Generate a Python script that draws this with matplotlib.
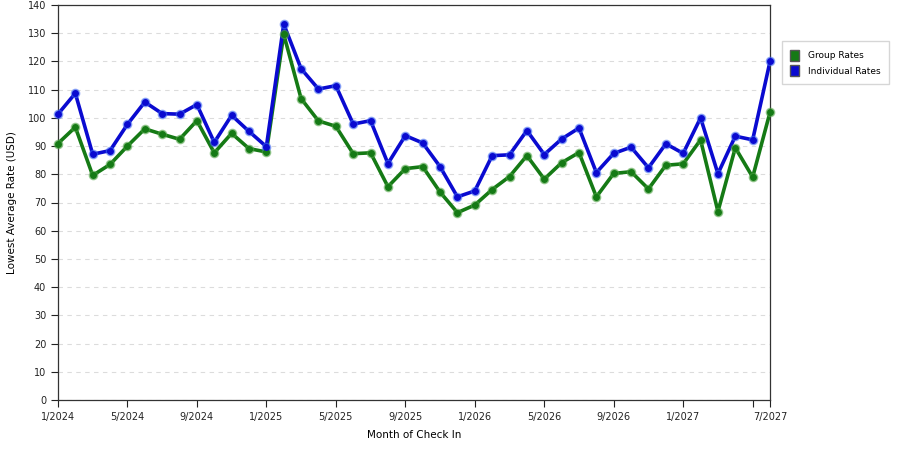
import matplotlib
matplotlib.use("Agg")
import matplotlib.pyplot as plt
from matplotlib.patches import Patch

months = list(range(42))  # 1/2024 .. 6/2027
tick_pos = [0, 4, 8, 12, 16, 20, 24, 28, 32, 36, 40, 41]
tick_labels = ["1/2024", "5/2024", "9/2024", "1/2025", "5/2025", "9/2025",
               "1/2026", "5/2026", "9/2026", "1/2027", "", "7/2027"]

group_rates = [90.9, 96.7, 79.6, 83.5, 90.0, 96.1, 94.2, 92.4, 99.0, 87.6,
               94.5, 89.1, 87.9, 129.6, 106.8, 98.9, 97.0, 87.3, 87.6, 75.6,
               82.0, 82.7, 73.7, 66.4, 69.1, 74.6, 79.2, 86.6, 78.3, 84.1,
               87.7, 72.0, 80.3, 80.9, 74.8, 83.2, 83.7, 92.2, 66.8, 89.4,
               79.0, 102.0]
individual_rates = [101.3, 108.7, 87.1, 88.4, 97.7, 105.6, 101.5, 101.3, 104.7, 91.3,
                    100.9, 95.2, 89.8, 133.2, 117.4, 110.2, 111.4, 97.8, 99.0, 83.8,
                    93.7, 91.1, 82.7, 72.0, 74.1, 86.6, 86.9, 95.5, 87.0, 92.5,
                    96.4, 80.6, 87.4, 89.6, 82.3, 90.8, 87.4, 100.0, 80.2, 93.5,
                    92.2, 120.0]

green = "#157a15"
blue = "#0a0ad0"

fig = plt.figure(figsize=(9, 4.5), dpi=100)
ax = fig.add_axes([0.0644, 0.111, 0.7912, 0.878])

for vals, col, mcol in [(group_rates, green, "#4aa040"), (individual_rates, blue, "#3a64f0")]:
    ax.plot(months, vals, color=col, linewidth=2.6, zorder=3, solid_capstyle="round")
    ax.plot(months, vals, linestyle="none", marker="o", markersize=6,
            markerfacecolor=mcol, markeredgecolor=mcol, alpha=0.5, zorder=4, clip_on=False)
    ax.plot(months, vals, linestyle="none", marker="o", markersize=4,
            markerfacecolor=col, markeredgecolor=col, zorder=5, clip_on=False)

ax.set_xlim(0, 41)
ax.set_ylim(0, 140)
ax.set_yticks(range(0, 141, 10))
ax.set_xticks(tick_pos)
ax.set_xticklabels(tick_labels)
ax.yaxis.grid(True, linestyle=(0, (4, 4)), color="#dcdcdc", linewidth=0.8)
ax.set_axisbelow(True)
ax.tick_params(axis="both", labelsize=7, direction="out", length=5, width=0.8, colors="#222222")
for s in ax.spines.values():
    s.set_color("#333333")
    s.set_linewidth(0.9)

ax.set_xlabel("Month of Check In", fontsize=7.5, labelpad=6)
ax.set_ylabel("Lowest Average Rate (USD)", fontsize=7.5, labelpad=8)

handles = [Patch(facecolor=green, edgecolor="#555555", label="Group Rates"),
           Patch(facecolor=blue, edgecolor="#555555", label="Individual Rates")]
fig.legend(handles=handles, loc="upper left", bbox_to_anchor=(0.864, 0.918),
           fontsize=6.5, frameon=True, fancybox=False, edgecolor="#cccccc",
           handlelength=1.0, handleheight=1.5, handletextpad=1.0,
           borderpad=0.9, labelspacing=0.5)

plt.savefig("out.png", dpi=100)
plt.close()
